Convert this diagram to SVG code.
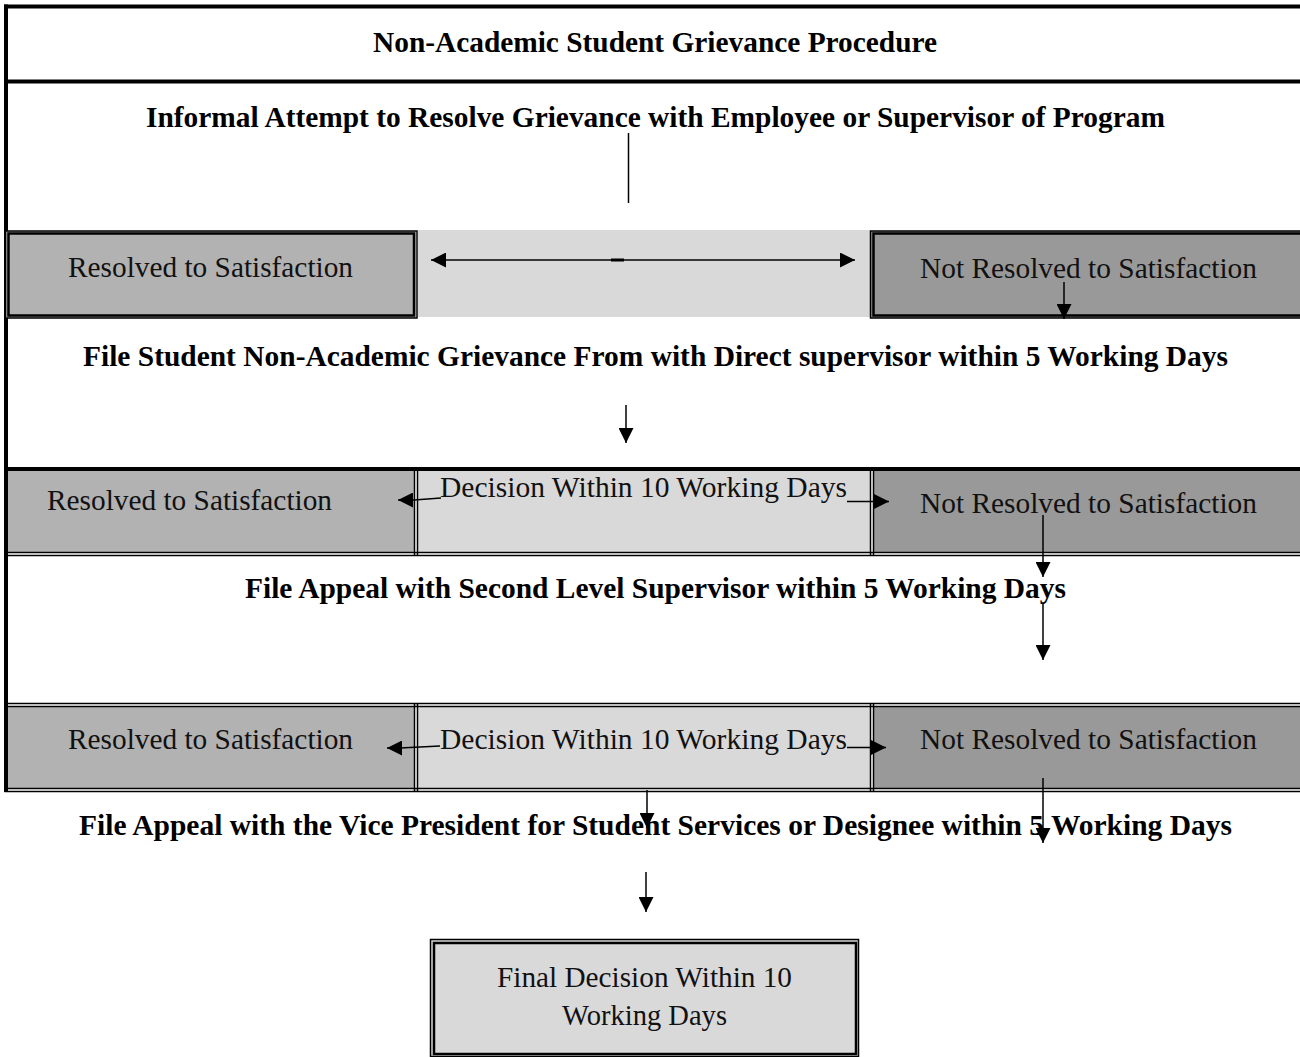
<svg xmlns="http://www.w3.org/2000/svg" width="1300" height="1057" viewBox="0 0 1300 1057">
<style>
.b{font-family:"Liberation Serif","Times New Roman",serif;font-weight:bold;font-size:29px;fill:#000}
.r{font-family:"Liberation Serif","Times New Roman",serif;font-size:29px;fill:#111}
.thick{stroke:#000;stroke-width:4;fill:none}
.dl{stroke:#000;stroke-width:1.5;fill:none}
.in{stroke:#000;stroke-width:2.5;fill:none}
.conn{stroke:#000;stroke-width:1.5;fill:none}
.g1{fill:#b2b2b2}.g2{fill:#d9d9d9}.g3{fill:#999999}
</style>
<defs>
<marker id="ah" markerUnits="userSpaceOnUse" markerWidth="15" markerHeight="15" refX="15" refY="7.5" orient="auto-start-reverse"><path d="M0,0 L15,7.5 L0,15 z" fill="#000"/></marker>
</defs>
<rect width="1300" height="1057" fill="#fff"/>

<g id="frame">
<line class="thick" x1="4" y1="6.5" x2="1300" y2="6.5"/>
<line class="thick" x1="4" y1="81.5" x2="1300" y2="81.5"/>
<line class="thick" x1="6" y1="4.5" x2="6" y2="704"/>
</g>

<g id="title"><text class="b" x="655" y="52" text-anchor="middle" textLength="564" lengthAdjust="spacingAndGlyphs">Non-Academic Student Grievance Procedure</text></g>
<g id="informal"><text class="b" x="655.5" y="127" text-anchor="middle" textLength="1019" lengthAdjust="spacingAndGlyphs">Informal Attempt to Resolve Grievance with Employee or Supervisor of Program</text></g>

<g id="row1-mid"><rect class="g2" x="418" y="230" width="452" height="87"/></g>
<g id="row1-resolved">
<rect class="g1" x="6" y="231" width="410" height="87"/>
<rect class="dl" x="5.5" y="231" width="411.5" height="87"/>
<rect class="in" x="8.5" y="233.5" width="405.5" height="82"/>
<text class="r" x="68" y="277" textLength="285" lengthAdjust="spacingAndGlyphs">Resolved to Satisfaction</text>
</g>
<g id="row1-notresolved">
<rect class="g3" x="870" y="231" width="430" height="87"/>
<rect class="dl" x="870.5" y="231" width="432" height="87"/>
<rect class="in" x="873.5" y="233.5" width="430" height="82"/>
<text class="r" x="920" y="278" textLength="337" lengthAdjust="spacingAndGlyphs">Not Resolved to Satisfaction</text>
</g>

<g id="file-student"><text class="b" x="655.5" y="366" text-anchor="middle" textLength="1145" lengthAdjust="spacingAndGlyphs">File Student Non-Academic Grievance From with Direct supervisor within 5 Working Days</text></g>

<g id="row2">
<rect class="g1" x="8" y="471" width="406" height="81"/>
<rect class="g2" x="418" y="471" width="452" height="81"/>
<rect class="g3" x="873" y="471" width="427" height="81"/>
<line class="thick" x1="4" y1="469" x2="1300" y2="469"/>
<line class="dl" x1="4" y1="552.5" x2="1300" y2="552.5"/>
<line class="dl" x1="4" y1="555.5" x2="1300" y2="555.5"/>
<line class="dl" x1="414.5" y1="469" x2="414.5" y2="556"/>
<line class="dl" x1="417.5" y1="469" x2="417.5" y2="556"/>
<line class="dl" x1="870.5" y1="469" x2="870.5" y2="556"/>
<line class="dl" x1="873.5" y1="469" x2="873.5" y2="556"/>
</g>
<g id="row2-resolved"><text class="r" x="47" y="510" textLength="285" lengthAdjust="spacingAndGlyphs">Resolved to Satisfaction</text></g>
<g id="row2-decision"><text class="r" x="440" y="497" textLength="407" lengthAdjust="spacingAndGlyphs">Decision Within 10 Working Days</text></g>
<g id="row2-notresolved"><text class="r" x="920" y="513" textLength="337" lengthAdjust="spacingAndGlyphs">Not Resolved to Satisfaction</text></g>

<g id="file-appeal-2"><text class="b" x="655.5" y="598" text-anchor="middle" textLength="821" lengthAdjust="spacingAndGlyphs">File Appeal with Second Level Supervisor within 5 Working Days</text></g>

<g id="row3">
<rect class="g1" x="8" y="707" width="406" height="81"/>
<rect class="g2" x="418" y="707" width="452" height="81"/>
<rect class="g3" x="873" y="707" width="427" height="81"/>
<line class="dl" x1="4.5" y1="703.5" x2="1300" y2="703.5"/>
<line class="dl" x1="4.5" y1="706.5" x2="1300" y2="706.5"/>
<line class="dl" x1="4.5" y1="788.5" x2="1300" y2="788.5"/>
<line class="dl" x1="4.5" y1="791.5" x2="1300" y2="791.5"/>
<line class="thick" x1="6" y1="703" x2="6" y2="792"/>
<line class="dl" x1="414.5" y1="703" x2="414.5" y2="792"/>
<line class="dl" x1="417.5" y1="703" x2="417.5" y2="792"/>
<line class="dl" x1="870.5" y1="703" x2="870.5" y2="792"/>
<line class="dl" x1="873.5" y1="703" x2="873.5" y2="792"/>
</g>
<g id="row3-resolved"><text class="r" x="68" y="749" textLength="285" lengthAdjust="spacingAndGlyphs">Resolved to Satisfaction</text></g>
<g id="row3-decision"><text class="r" x="440" y="749" textLength="407" lengthAdjust="spacingAndGlyphs">Decision Within 10 Working Days</text></g>
<g id="row3-notresolved"><text class="r" x="920" y="749" textLength="337" lengthAdjust="spacingAndGlyphs">Not Resolved to Satisfaction</text></g>

<g id="file-appeal-vp"><text class="b" x="655.5" y="835" text-anchor="middle" textLength="1153" lengthAdjust="spacingAndGlyphs">File Appeal with the Vice President for Student Services or Designee within 5 Working Days</text></g>

<g id="final">
<rect class="g2" x="431" y="940" width="427" height="116"/>
<rect class="dl" x="430.5" y="939.5" width="428" height="117"/>
<rect class="in" x="434" y="943" width="422" height="111"/>
<text class="r" x="497" y="987" textLength="295" lengthAdjust="spacingAndGlyphs">Final Decision Within 10</text>
<text class="r" x="562" y="1025" textLength="165" lengthAdjust="spacingAndGlyphs">Working Days</text>
</g>

<g id="connectors">
<line class="conn" x1="628.5" y1="133" x2="628.5" y2="203" stroke-width="1"/>
<line class="conn" x1="431" y1="260" x2="855" y2="260" marker-start="url(#ah)" marker-end="url(#ah)"/>
<line x1="611" y1="260" x2="624" y2="260" stroke="#000" stroke-width="3"/>
<line class="conn" x1="1064" y1="282" x2="1064" y2="319" marker-end="url(#ah)"/>
<line class="conn" x1="626" y1="405" x2="626" y2="443" marker-end="url(#ah)"/>
<polyline class="conn" points="441,498 414,500 398,500" marker-end="url(#ah)"/>
<line class="conn" x1="847" y1="501.5" x2="889" y2="501.5" marker-end="url(#ah)"/>
<line class="conn" x1="1043" y1="515" x2="1043" y2="577" marker-end="url(#ah)"/>
<line class="conn" x1="1043" y1="603" x2="1043" y2="660" marker-end="url(#ah)"/>
<polyline class="conn" points="440,746 400,748 387,748" marker-end="url(#ah)"/>
<line class="conn" x1="847" y1="747.5" x2="886" y2="747.5" marker-end="url(#ah)"/>
<line class="conn" x1="647" y1="790" x2="647" y2="828" marker-end="url(#ah)"/>
<line class="conn" x1="1043" y1="778" x2="1043" y2="843" marker-end="url(#ah)"/>
<line class="conn" x1="646" y1="872" x2="646" y2="912" marker-end="url(#ah)"/>
</g>
</svg>
